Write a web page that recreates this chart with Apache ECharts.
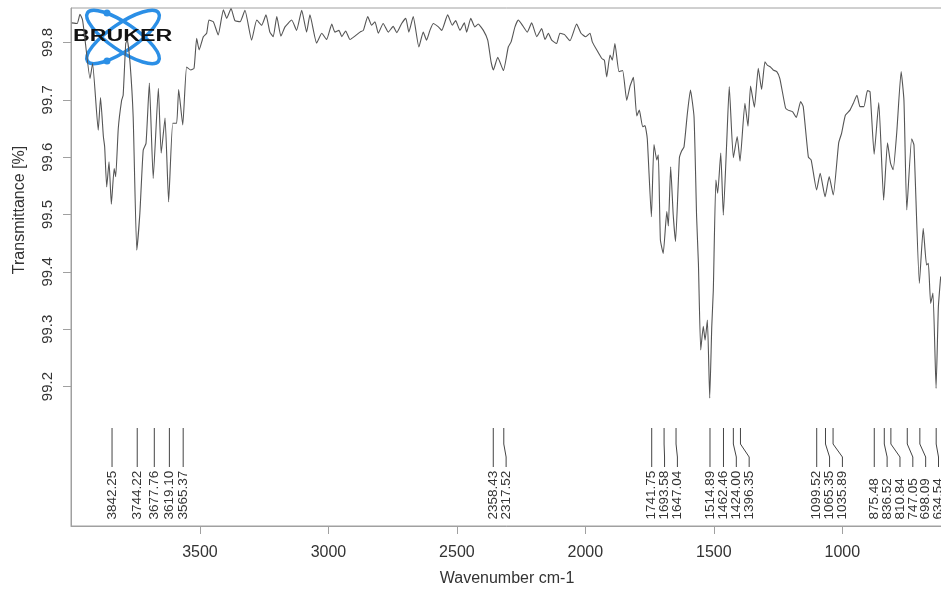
<!DOCTYPE html>
<html>
<head>
<meta charset="utf-8">
<script src="https://cdn.jsdelivr.net/npm/echarts@6/dist/echarts.min.js"></script>
<style>
html, body { margin: 0; padding: 0; background: #fff; }
#main { width: 941px; height: 590px; }
</style>
</head>
<body>
<div id="main"></div>
<script>
// FTIR spectrum (Bruker export)
var wavenumber = [
  3999, 3978, 3967, 3957, 3948, 3928, 3918, 3896, 3887, 3876,
  3871, 3863, 3854, 3845, 3834, 3828, 3818, 3805, 3799, 3789,
  3783, 3772, 3760, 3746, 3734, 3721, 3710, 3697, 3682, 3662,
  3651, 3636, 3622, 3606, 3591, 3583, 3567, 3552, 3536, 3523,
  3513, 3503, 3487, 3474, 3465, 3448, 3429, 3409, 3396, 3379,
  3364, 3344, 3325, 3299, 3279, 3260, 3243, 3228, 3215, 3201,
  3185, 3169, 3143, 3124, 3104, 3085, 3072, 3046, 3026, 3007,
  2987, 2975, 2959, 2948, 2933, 2916, 2897, 2877, 2864, 2847,
  2832, 2819, 2806, 2787, 2767, 2748, 2734, 2715, 2699, 2687,
  2670, 2648, 2631, 2618, 2605, 2592, 2572, 2559, 2536, 2518,
  2505, 2488, 2471, 2462, 2446, 2430, 2417, 2397, 2380, 2367,
  2358, 2341, 2319, 2300, 2289, 2274, 2261, 2248, 2226, 2209,
  2189, 2170, 2157, 2144, 2131, 2112, 2099, 2082, 2060, 2034,
  2017, 1999, 1982, 1973, 1952, 1936, 1926, 1917, 1904, 1895,
  1885, 1869, 1855, 1839, 1826, 1813, 1800, 1790, 1777, 1768,
  1759, 1743, 1733, 1722, 1716, 1708, 1697, 1683, 1677, 1668,
  1658, 1649, 1634, 1625, 1616, 1603, 1591, 1577, 1567, 1560,
  1551, 1541, 1534, 1525, 1516, 1508, 1502, 1492, 1485, 1473,
  1463, 1450, 1440, 1424, 1409, 1398, 1379, 1367, 1357, 1342,
  1327, 1314, 1301, 1291, 1279, 1269, 1255, 1243, 1221, 1211,
  1193, 1179, 1162, 1152, 1132, 1121, 1100, 1086, 1067, 1051,
  1035, 1014, 1003, 988, 970, 957, 943, 931, 916, 902,
  892, 876, 858, 839, 824, 812, 802, 788, 771, 760,
  749, 730, 721, 700, 685, 672, 665, 656, 647, 635,
  626, 617
];
var transmittance = [
  99.834, 99.833, 99.849, 99.839, 99.807, 99.737, 99.763, 99.647, 99.704, 99.636,
  99.618, 99.548, 99.592, 99.518, 99.580, 99.566, 99.650, 99.699, 99.708, 99.798,
  99.804, 99.763, 99.670, 99.438, 99.502, 99.612, 99.624, 99.729, 99.563, 99.720,
  99.607, 99.668, 99.522, 99.659, 99.659, 99.718, 99.656, 99.757, 99.752, 99.755,
  99.807, 99.787, 99.810, 99.816, 99.839, 99.836, 99.813, 99.857, 99.842, 99.859,
  99.838, 99.836, 99.856, 99.804, 99.839, 99.830, 99.848, 99.818, 99.810, 99.845,
  99.811, 99.827, 99.839, 99.821, 99.856, 99.818, 99.848, 99.799, 99.816, 99.805,
  99.832, 99.818, 99.821, 99.810, 99.820, 99.805, 99.811, 99.818, 99.821, 99.845,
  99.830, 99.836, 99.816, 99.833, 99.818, 99.828, 99.817, 99.833, 99.842, 99.818,
  99.845, 99.792, 99.818, 99.804, 99.821, 99.833, 99.827, 99.821, 99.848, 99.830,
  99.838, 99.821, 99.834, 99.818, 99.842, 99.827, 99.832, 99.821, 99.804, 99.766,
  99.752, 99.774, 99.751, 99.792, 99.801, 99.827, 99.839, 99.832, 99.818, 99.834,
  99.810, 99.824, 99.805, 99.816, 99.804, 99.798, 99.816, 99.814, 99.803, 99.832,
  99.816, 99.810, 99.816, 99.801, 99.784, 99.772, 99.769, 99.740, 99.778, 99.769,
  99.798, 99.749, 99.751, 99.699, 99.724, 99.739, 99.672, 99.682, 99.653, 99.655,
  99.632, 99.496, 99.622, 99.595, 99.604, 99.456, 99.432, 99.505, 99.480, 99.583,
  99.499, 99.453, 99.599, 99.611, 99.618, 99.676, 99.717, 99.670, 99.496, 99.415,
  99.264, 99.305, 99.281, 99.316, 99.180, 99.305, 99.368, 99.560, 99.537, 99.607,
  99.499, 99.624, 99.723, 99.599, 99.636, 99.593, 99.694, 99.654, 99.724, 99.687,
  99.755, 99.718, 99.766, 99.760, 99.757, 99.752, 99.749, 99.737, 99.686, 99.682,
  99.679, 99.669, 99.697, 99.688, 99.600, 99.595, 99.543, 99.572, 99.531, 99.566,
  99.534, 99.625, 99.641, 99.673, 99.682, 99.694, 99.708, 99.688, 99.688, 99.716,
  99.714, 99.605, 99.695, 99.525, 99.625, 99.589, 99.578, 99.643, 99.749, 99.699,
  99.508, 99.632, 99.621, 99.380, 99.476, 99.412, 99.415, 99.345, 99.363, 99.197,
  99.339, 99.392
];
var peaks = [
  3842.25, 3744.22, 3677.76, 3619.10, 3565.37, 2358.43, 2317.52,
  1741.75, 1693.58, 1647.04, 1514.89, 1462.46, 1424.00, 1396.35,
  1099.52, 1065.35, 1035.89, 875.48, 836.52, 810.84, 747.05, 698.09, 634.54
];
var xTicks = [1000, 1500, 2000, 2500, 3000, 3500];
var yTicks = [99.2, 99.3, 99.4, 99.5, 99.6, 99.7, 99.8];

var points = wavenumber.map(function (w, i) { return [w, transmittance[i]]; });

// labels must sit at least ~50 cm-1 apart, push them to lower wavenumbers
var labelAt = [];
peaks.forEach(function (p, i) {
  labelAt.push(i === 0 ? p : Math.min(p, labelAt[i - 1] - 50));
});
var peakData = peaks.map(function (p, i) { return [p, labelAt[i]]; });

var myChart = echarts.init(document.getElementById('main'));
var option = {
  animation: false,
  backgroundColor: '#fff',
  grid: {
    left: 71, right: -2, top: 8, bottom: 64,
    show: true, borderColor: '#a0a0a0', borderWidth: 1,
    outerBoundsMode: 'none'
  },
  xAxis: {
    type: 'value',
    inverse: true,
    min: 608, max: 4002,
    name: 'Wavenumber cm-1',
    nameLocation: 'middle',
    nameGap: 45,
    nameTextStyle: { color: '#333', fontSize: 16, fontFamily: 'Liberation Sans' },
    splitLine: { show: false },
    axisLine: { show: true, lineStyle: { color: '#a0a0a0' } },
    axisTick: { show: true, length: 8, customValues: xTicks, lineStyle: { color: '#a0a0a0' } },
    axisLabel: {
      customValues: xTicks, margin: 19, color: '#333', fontSize: 16, fontFamily: 'Liberation Sans',
      formatter: function (v) { return String(v); }
    }
  },
  yAxis: {
    type: 'value',
    min: 98.957, max: 99.86,
    splitLine: { show: false },
    axisLine: { show: true, lineStyle: { color: '#a0a0a0' } },
    axisTick: { show: true, length: 8, customValues: yTicks, lineStyle: { color: '#a0a0a0' } },
    axisLabel: {
      customValues: yTicks, rotate: 90, margin: 16, color: '#333', fontSize: 15,
      fontFamily: 'Liberation Sans',
      formatter: function (v) { return v.toFixed(1); }
    }
  },
  graphic: [
    {
      type: 'text', x: 20, y: 210, rotation: Math.PI / 2, z: 10,
      style: { text: 'Transmittance [%]', fill: '#333', fontSize: 16, fontFamily: 'Liberation Sans', align: 'center', verticalAlign: 'middle' }
    },
    // bruker logo
    {
      type: 'group', x: 123, y: 37, z: 20,
      children: [
        { type: 'ellipse', rotation: 0.6, shape: { cx: 0, cy: 0, rx: 43, ry: 13.5 }, style: { fill: null, stroke: '#2b8fe6', lineWidth: 3.5 } },
        { type: 'ellipse', rotation: -0.6, shape: { cx: 0, cy: 0, rx: 43, ry: 13.5 }, style: { fill: null, stroke: '#2b8fe6', lineWidth: 3.5 } },
        { type: 'circle', shape: { cx: -16, cy: -24, r: 3.5 }, style: { fill: '#2b8fe6' } },
        { type: 'circle', shape: { cx: -16, cy: 24, r: 3.5 }, style: { fill: '#2b8fe6' } },
        {
          type: 'text', x: -50, y: 0, scaleX: 1.45,
          style: { text: 'BRUKER', fill: '#111', fontSize: 16, fontWeight: 'bold', fontFamily: 'Liberation Sans', align: 'left', verticalAlign: 'middle' }
        }
      ]
    }
  ],
  series: [
    {
      type: 'line',
      data: points,
      showSymbol: false,
      smooth: 0.15,
      lineStyle: { color: '#555', width: 1.1 },
      z: 3
    },
    {
      type: 'custom',
      data: peakData,
      z: 4,
      renderItem: function (params, api) {
        var cs = params.coordSys;
        var bottom = cs.y + cs.height;
        var x0 = api.coord([api.value(0), 99.5])[0];
        var x1 = api.coord([api.value(1), 99.5])[0];
        return {
          type: 'group',
          children: [
            {
              type: 'polyline',
              shape: { points: [[x0, bottom - 98], [x0, bottom - 82], [x1, bottom - 69], [x1, bottom - 59]] },
              style: { stroke: '#444', lineWidth: 1, fill: null }
            },
            {
              type: 'text', x: x1, y: bottom - 6.5, rotation: Math.PI / 2,
              style: {
                text: peaks[params.dataIndex].toFixed(2), fill: '#333', fontSize: 13.5,
                fontFamily: 'Liberation Sans', align: 'left', verticalAlign: 'middle'
              }
            }
          ]
        };
      }
    }
  ]
};
myChart.setOption(option);
</script>
</body>
</html>
